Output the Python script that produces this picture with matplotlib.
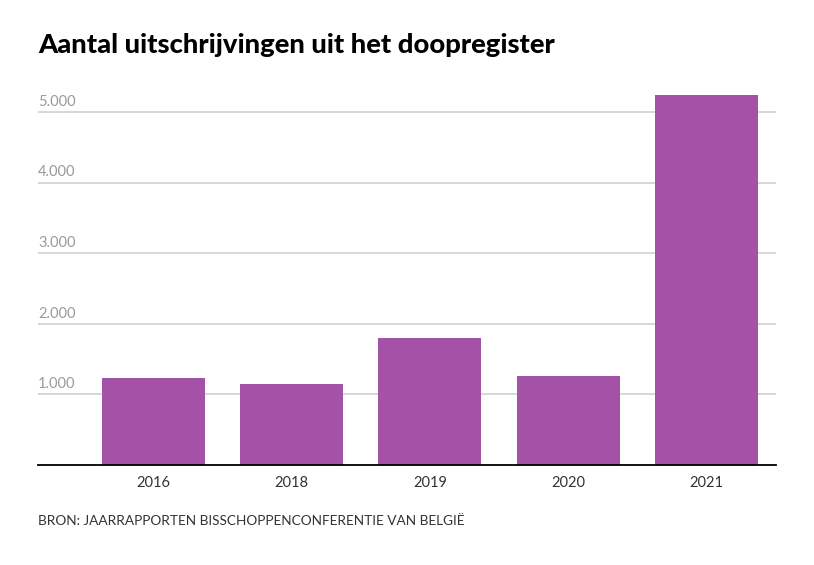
import matplotlib
matplotlib.use("Agg")
import matplotlib.pyplot as plt
import matplotlib.transforms as mtransforms

plt.rcParams['font.family'] = ['Lato', 'DejaVu Sans']

years = ['2016', '2018', '2019', '2020', '2021']
uitschrijvingen = [1232, 1147, 1799, 1261, 5241]
y_ticks = [1000, 2000, 3000, 4000, 5000]
y_tick_labels = ['1.000', '2.000', '3.000', '4.000', '5.000']

bar_color = '#a352a8'

fig = plt.figure(figsize=(8.14, 5.65), dpi=100)
ax = fig.add_axes([38 / 814, 100 / 565, 738 / 814, 375 / 565])

x = list(range(len(years)))
ax.bar(x, uitschrijvingen, width=0.745, color=bar_color, zorder=3)

ax.set_xlim(-0.835, 4.503)
ax.set_ylim(0, 5312)

for t in y_ticks:
    ax.axhline(t, color='#d4d4d4', lw=1.3, zorder=1)

# labels sit just above their gridline, left aligned
trans = mtransforms.blended_transform_factory(ax.transAxes, ax.transData)
for t, lab in zip(y_ticks, y_tick_labels):
    ax.text(0, t + 45, lab, transform=trans, ha='left', va='bottom',
            fontsize=10.5, color='#9a9a9a')

ax.set_yticks([])
ax.set_xticks(x)
ax.set_xticklabels(years, fontsize=10.5, color='#333333')
ax.tick_params(axis='x', length=0, pad=8)

for side in ['top', 'right', 'left']:
    ax.spines[side].set_visible(False)
ax.spines['bottom'].set_color('black')
ax.spines['bottom'].set_linewidth(1.3)
ax.spines['bottom'].set_zorder(4)

fig.text(38 / 814, 1 - 45 / 565, 'Aantal uitschrijvingen uit het doopregister',
         ha='left', va='center', fontsize=19.7, fontweight='black', color='black')
fig.text(38 / 814, 1 - 521 / 565, 'BRON: JAARRAPPORTEN BISSCHOPPENCONFERENTIE VAN BELGIË',
         ha='left', va='center', fontsize=9.85, color='#333333')

fig.savefig('out.png', dpi=100)
